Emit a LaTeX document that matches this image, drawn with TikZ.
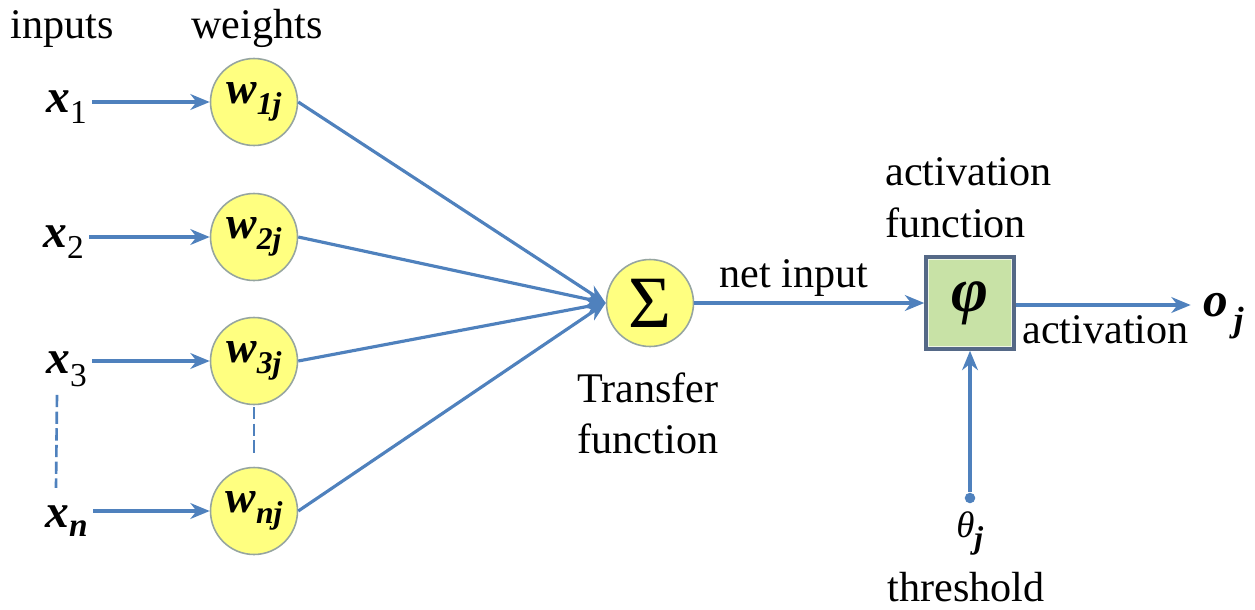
\documentclass[tikz,border=0pt]{standalone}
\usepackage{fontspec}
\setmainfont{LiberationSerif}[Extension=.ttf, UprightFont=*-Regular, BoldFont=*-Bold, ItalicFont=*-Italic, BoldItalicFont=*-BoldItalic]
\usetikzlibrary{arrows.meta,calc}
\definecolor{lineblue}{RGB}{79,129,189}
\definecolor{circfill}{RGB}{255,255,128}
\definecolor{circdraw}{RGB}{150,165,160}
\definecolor{boxfill}{RGB}{200,226,166}
\definecolor{boxdraw}{RGB}{85,105,135}
\newcommand\fsz[1]{\fontsize{#1}{#1}\selectfont}
\newcommand\xlab[2]{{\fsz{27}\bfseries\itshape x}\raisebox{-#2}{\fsz{19}#1}}
\newcommand\wlab[1]{{\fsz{26}\bfseries\itshape w}\raisebox{-6.5pt}{\fsz{18}\bfseries\itshape #1}}
\begin{document}
\begin{tikzpicture}[x=0.02cm,y=-0.02cm,
  txt/.style={font=\fsz{24}, inner sep=0pt, anchor=base},
  lbl/.style={inner sep=0pt, anchor=base west},
  wnode/.style={circle, fill=circfill, draw=circdraw, line width=0.9pt, minimum size=1.74cm, inner sep=0pt},
  conn/.style={draw=lineblue, line width=1.8pt},
  arr/.style={conn, -{Stealth[length=11pt,width=9pt,inset=3.5pt]}},
  dashline/.style={draw=lineblue, line width=1.5pt, dash pattern=on 7pt off 2.5pt}
]
\useasboundingbox (0,0) rectangle (1255,609);

% headers
\node[txt] (inputs) at (62,38) {inputs};
\node[txt] (weights) at (257,38) {weights};

% inputs
\node[lbl] (x1) at (46,112) {\xlab{1}{6.3pt}};
\node[lbl] (x2) at (43,247) {\xlab{2}{6.3pt}};
\node[lbl] (x3) at (46,373) {\xlab{3}{7.5pt}};
\node[lbl] (xn) at (45,527) {{\fsz{27}\bfseries\itshape x}\raisebox{-5.5pt}{\fsz{19}\bfseries\itshape n}};

% weights
\node[wnode] (w1) at (254,102) {\wlab{1j}};
\node[wnode] (w2) at (254,237) {\wlab{2j}};
\node[wnode] (w3) at (254,361) {\wlab{3j}};
\node[wnode] (wn) at (254,511) {\wlab{nj}};

% summation
\node[wnode] (sum) at (650,303) {\fsz{42}Σ};
\node[txt] (tf1) at (648,402) {Transfer};
\node[txt] (tf2) at (648,453) {function};

% activation box
\node[draw=boxdraw, fill=boxfill, line width=2pt, minimum width=1.76cm, minimum height=1.84cm, inner sep=0pt] (phi) at (970,303) {\fsz{36}\bfseries\itshape φ};
\draw[white!70!boxfill, line width=0.8pt] ($(phi.north west)+(4,4)$) rectangle ($(phi.south east)+(-4,-4)$);
\node[txt, anchor=base west] (af1) at (885,185) {activation};
\node[txt, anchor=base west] (af2) at (885,237) {function};

% output
\node[lbl] (oj) at (1203,316) {{\fsz{28}\bfseries\itshape o}\raisebox{-9pt}{\fsz{20}\bfseries\itshape\,j}};
\node[txt, anchor=base west] (act) at (1022,343) {activation};

% threshold
\node[circle, fill=lineblue, inner sep=0pt, minimum size=6pt] (dot) at (970,498) {};
\node[lbl] (theta) at (956,537) {{\fsz{21}\itshape θ}\raisebox{-6.3pt}{\fsz{18}\bfseries\itshape j}};
\node[txt] (thr) at (966,601) {threshold};

% connectors
\foreach \i in {1,2,3}{
  \draw[arr, shorten <=3pt] (x\i.east |- w\i.west) -- (w\i.west);
}
\draw[arr, shorten <=3pt] (xn.east |- wn.west) -- (wn.west);
\foreach \i in {w1,w2,w3,wn}{
  \draw[arr] (\i.east) -- (sum.west);
}
\draw[arr] (sum.east) -- (phi.west);
\node[txt] (netin) at (794,287) {net input};
\draw[arr, shorten >=7pt] ($(phi.east)+(0,2)$) -- ($(oj.west |- phi.east)+(0,2)$);
\draw[arr] (dot) -- (phi.south);

% dashed continuation lines
\draw[dashline] ($(x3.south west)+(11,8)$) -- ($(xn.north west)+(11,-17)$);
\draw[dashline, shorten <=1pt, shorten >=7pt] (w3.south) -- (wn.north);
\end{tikzpicture}
\end{document}
